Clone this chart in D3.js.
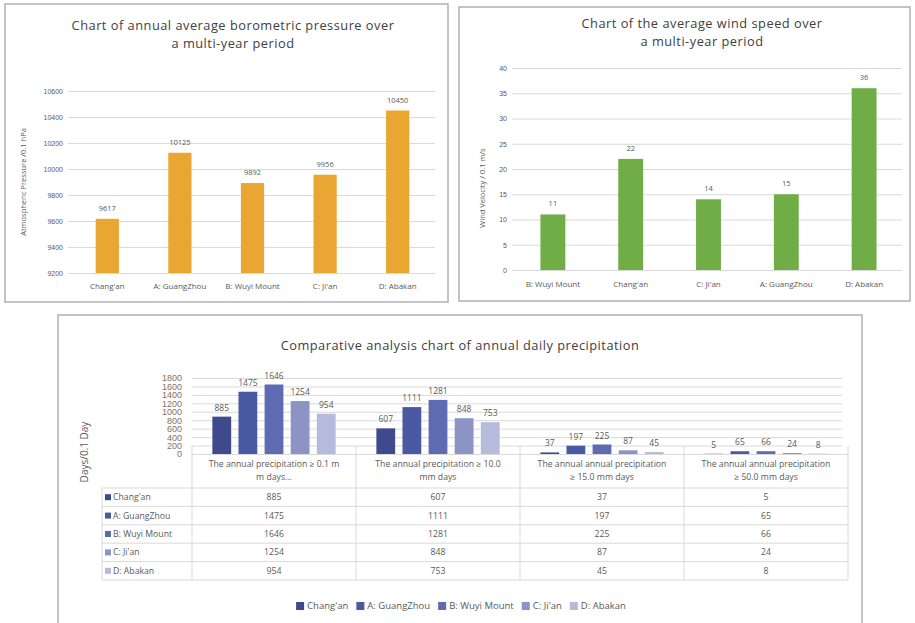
<!DOCTYPE html>
<html>
<head>
<meta charset="utf-8">
<script src="https://cdn.jsdelivr.net/npm/d3@7"></script>
<style>
  body { margin: 0; background: #fff; }
  svg { display: block; font-family: "Open Sans", "DejaVu Sans", sans-serif; }
</style>
</head>
<body>
<svg id="canvas" width="915" height="623"></svg>
<script>
// ---- data ----
var pressureCats = ["Chang'an", "A: GuangZhou", "B: Wuyi Mount", "C: Ji'an", "D: Abakan"];
var pressureVals = [9617, 10125, 9892, 9956, 10450];
var pressureTicks = [9200, 9400, 9600, 9800, 10000, 10200, 10400, 10600];

var windCats = ["B: Wuyi Mount", "Chang'an", "C: Ji'an", "A: GuangZhou", "D: Abakan"];
var windVals = [11, 22, 14, 15, 36];
var windTicks = [0, 5, 10, 15, 20, 25, 30, 35, 40];

var precipGroups = [
  ["The annual precipitation \u2265 0.1 m", "m days..."],
  ["The annual precipitation \u2265 10.0", "mm days"],
  ["The annual annual precipitation", "\u2265 15.0 mm days"],
  ["The annual annual precipitation", "\u2265 50.0 mm days"]
];
var precipSeries = ["Chang'an", "A: GuangZhou", "B: Wuyi Mount", "C: Ji'an", "D: Abakan"];
var precipChangan = [885, 607, 37, 5];
var precipGuangzhou = [1475, 1111, 197, 65];
var precipWuyi = [1646, 1281, 225, 66];
var precipJian = [1254, 848, 87, 24];
var precipAbakan = [954, 753, 45, 8];
var precipTicks = [0, 200, 400, 600, 800, 1000, 1200, 1400, 1600, 1800];
var precipColors = ["#3e4a8c", "#4a5aa2", "#5f6bb0", "#8c94c6", "#b6badb"];

var svg = d3.select('#canvas');
var textCol = "#595959";
var gridCol = "#d9d9d9";
var fmt = d3.format('d');

// panel frames
function frame(x, y, w, h) {
  svg.append('rect').attr('x', x).attr('y', y).attr('width', w).attr('height', h)
    .attr('fill', '#fff').attr('stroke', '#b0b0b0').attr('stroke-width', 1.5);
}
frame(5, 4, 443, 298);
frame(459, 7, 451, 294);
frame(58, 315, 804, 330);

// titles: slightly spaced letters, the original uses a wide face
function title(lines, cx, y0) {
  lines.forEach(function (t, i) {
    svg.append('text').attr('x', cx).attr('y', y0 + i * 18)
      .attr('text-anchor', 'middle').attr('font-size', 12.8).attr('letter-spacing', 0.5)
      .attr('fill', '#404040').text(t);
  });
}

function simpleBar(opts) {
  var x = d3.scaleBand().domain(opts.cats).range(opts.xr).paddingInner(0.68).paddingOuter(0.34);
  var y = d3.scaleLinear().domain([opts.ticks[0], opts.ticks[opts.ticks.length - 1]]).range(opts.yr);

  var g = svg.append('g');
  var axis = g.append('g').attr('transform', 'translate(' + opts.gx[0] + ',0)')
    .call(d3.axisLeft(y).tickValues(opts.ticks).tickFormat(fmt)
      .tickSize(-(opts.gx[1] - opts.gx[0])).tickPadding(5));
  axis.select('.domain').remove();
  axis.selectAll('line').attr('stroke', gridCol);
  axis.selectAll('text').attr('font-size', 7).attr('fill', textCol);

  g.selectAll('rect.bar').data(opts.vals).enter().append('rect')
    .attr('class', 'bar')
    .attr('x', function (d, i) { return x(opts.cats[i]); })
    .attr('width', x.bandwidth())
    .attr('y', function (d) { return y(d); })
    .attr('height', function (d) { return y(opts.ticks[0]) - y(d); })
    .attr('fill', opts.color);

  g.selectAll('text.val').data(opts.vals).enter().append('text')
    .attr('x', function (d, i) { return x(opts.cats[i]) + x.bandwidth() / 2; })
    .attr('y', function (d) { return y(d) - 8; })
    .attr('text-anchor', 'middle').attr('font-size', 7.5).attr('fill', textCol)
    .text(function (d) { return d; });

  g.selectAll('text.cat').data(opts.cats).enter().append('text')
    .attr('x', function (d) { return x(d) + x.bandwidth() / 2; })
    .attr('y', opts.catY)
    .attr('text-anchor', 'middle').attr('font-size', 8).attr('fill', textCol)
    .text(function (d) { return d; });

  g.append('text')
    .attr('transform', 'translate(' + opts.yt[0] + ',' + opts.yt[1] + ') rotate(-90)')
    .attr('text-anchor', 'middle').attr('font-size', 7.5).attr('fill', textCol)
    .text(opts.ytitle);
}

// ---- chart 1: pressure ----
title(["Chart of annual average borometric pressure over", "a multi-year period"], 233, 30);
simpleBar({
  cats: pressureCats, vals: pressureVals, ticks: pressureTicks,
  xr: [71, 434], gx: [68, 435], yr: [273, 91], color: "#eaa633",
  catY: 289, yt: [26, 182], ytitle: "Atmospheric Pressure /0.1 hPa"
});

// ---- chart 2: wind ----
title(["Chart of the average wind speed over", "a multi-year period"], 702, 28);
simpleBar({
  cats: windCats, vals: windVals, ticks: windTicks,
  xr: [514, 903], gx: [512, 902], yr: [270, 68], color: "#70ad47",
  catY: 287, yt: [485, 188], ytitle: "Wind Velocity  / 0.1 m/s"
});

// ---- chart 3: precipitation ----
title(["Comparative analysis chart of annual daily precipitation"], 460, 350);

var precipRows = [precipChangan, precipGuangzhou, precipWuyi, precipJian, precipAbakan];
var groupIdx = d3.range(precipGroups.length);
var x0 = d3.scaleBand().domain(groupIdx).range([192, 848]);
var x1 = d3.scaleBand().domain(precipSeries).range([0, x0.bandwidth()]).paddingInner(0.28).paddingOuter(0.78);
var y3 = d3.scaleLinear().domain([0, 1800]).range([454, 378]);

var g3 = svg.append('g');
var ax3 = g3.append('g').attr('transform', 'translate(192,0)')
  .call(d3.axisLeft(y3).tickValues(precipTicks).tickFormat(fmt).tickSize(-650).tickPadding(10));
ax3.select('.domain').remove();
ax3.selectAll('line').attr('stroke', gridCol);
ax3.selectAll('text').attr('font-size', 9).attr('fill', '#7f7066');

var grp = g3.selectAll('g.grp').data(groupIdx).enter().append('g')
  .attr('transform', function (d) { return 'translate(' + x0(d) + ',0)'; });

grp.selectAll('rect').data(function (gi) {
  return precipSeries.map(function (s, si) { return { s: s, si: si, v: precipRows[si][gi] }; });
}).enter().append('rect')
  .attr('x', function (d) { return x1(d.s); })
  .attr('width', x1.bandwidth())
  .attr('y', function (d) { return y3(d.v); })
  .attr('height', function (d) { return y3(0) - y3(d.v); })
  .attr('fill', function (d) { return precipColors[d.si]; });

grp.selectAll('text.val').data(function (gi) {
  return precipSeries.map(function (s, si) { return { s: s, v: precipRows[si][gi] }; });
}).enter().append('text')
  .attr('x', function (d) { return x1(d.s) + x1.bandwidth() / 2; })
  .attr('y', function (d) { return y3(d.v) - 6; })
  .attr('text-anchor', 'middle').attr('font-size', 8.5).attr('fill', textCol)
  .text(function (d) { return d.v; });

// data table under the bars
var rowH = 18.4, tableTop = 488, keyLeft = 102;
var tbl = svg.append('g').attr('stroke', gridCol).attr('stroke-width', 1);
groupIdx.concat([precipGroups.length]).forEach(function (gi) {
  var xx = gi < precipGroups.length ? x0(gi) : x0(gi - 1) + x0.bandwidth();
  tbl.append('line').attr('x1', xx).attr('x2', xx).attr('y1', 446).attr('y2', tableTop + rowH * 5);
});
tbl.append('line').attr('x1', keyLeft).attr('x2', keyLeft).attr('y1', tableTop).attr('y2', tableTop + rowH * 5);
d3.range(6).forEach(function (r) {
  tbl.append('line').attr('x1', keyLeft).attr('x2', 848)
    .attr('y1', tableTop + r * rowH).attr('y2', tableTop + r * rowH);
});
tbl.append('line').attr('x1', 192).attr('x2', 848).attr('y1', 454.5).attr('y2', 454.5);

precipGroups.forEach(function (lines, gi) {
  lines.forEach(function (t, li) {
    svg.append('text').attr('x', x0(gi) + x0.bandwidth() / 2).attr('y', 467 + li * 13)
      .attr('text-anchor', 'middle').attr('font-size', 8.7).attr('fill', textCol).text(t);
  });
});

precipSeries.forEach(function (s, si) {
  var cy = tableTop + si * rowH + rowH / 2;
  svg.append('rect').attr('x', 105).attr('y', cy - 3).attr('width', 6).attr('height', 6).attr('fill', precipColors[si]);
  svg.append('text').attr('x', 113).attr('y', cy + 3).attr('font-size', 8.7).attr('fill', textCol).text(s);
  precipRows[si].forEach(function (v, gi) {
    svg.append('text').attr('x', x0(gi) + x0.bandwidth() / 2).attr('y', cy + 3)
      .attr('text-anchor', 'middle').attr('font-size', 8.7).attr('fill', textCol).text(v);
  });
});

svg.append('text')
  .attr('transform', 'translate(88,452) rotate(-90)')
  .attr('text-anchor', 'middle').attr('font-size', 10).attr('fill', textCol)
  .text('Days/0.1 Day');

// legend
var leg = svg.append('g');
var lx = 0;
precipSeries.forEach(function (s, si) {
  var it = leg.append('g').attr('transform', 'translate(' + lx + ',0)');
  it.append('rect').attr('x', 0).attr('y', -7).attr('width', 8).attr('height', 8).attr('fill', precipColors[si]);
  var t = it.append('text').attr('x', 11).attr('y', 0).attr('font-size', 9.5).attr('fill', textCol).text(s);
  lx += 11 + t.node().getComputedTextLength() + 8;
});
leg.attr('transform', 'translate(' + (461 - (lx - 8) / 2) + ',609)');
</script>
</body>
</html>
